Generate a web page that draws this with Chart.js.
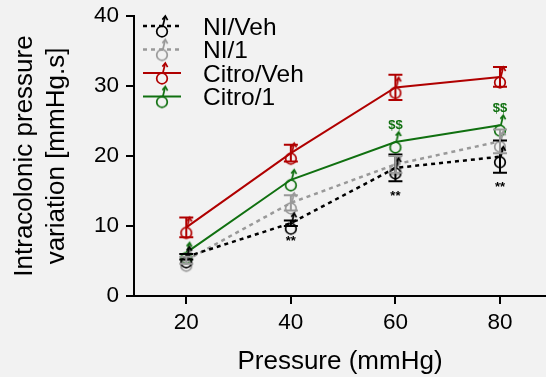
<!DOCTYPE html>
<html>
<head>
<meta charset="utf-8">
<script src="https://cdn.jsdelivr.net/npm/chart.js@4.4.1/dist/chart.umd.min.js"></script>
<style>
  html, body { margin: 0; padding: 0; background: #f2f2f2; }
  #wrap { width: 546px; height: 377px; position: relative; }
</style>
</head>
<body>
<div id="wrap"><canvas id="c" width="546" height="377"></canvas></div>
<script>
// ---- data ----
const pressures = [20, 40, 60, 80];
const seriesNames = ['NI/Veh', 'NI/1', 'Citro/Veh', 'Citro/1'];
const niVeh = [5.6, 10.4, 18.3, 19.9];
const niVehErr = [0.4, 0.4, 1.9, 2.3];
const ni1 = [5.1, 13.3, 18.8, 22.1];
const ni1Err = [0.5, 1.1, 1.2, 1.7];
const citroVeh = [9.8, 20.4, 29.8, 31.3];
const citroVehErr = [1.4, 1.2, 1.8, 1.4];
const citro1 = [6.2, 16.6, 22.0, 24.4];
const citro1Err = [0, 0, 0, 0];
const starMarks = ['', '**', '**', '**'];   // below NI/Veh
const dollarMarks = ['', '', '$$', '$$'];   // above Citro/1
const yTicks = [0, 10, 20, 30, 40];
const xTicks = [20, 40, 60, 80];

const FONT = "'Liberation Sans', Arial, Helvetica, sans-serif";
const colors = ['#000000', '#999999', '#b00000', '#107010'];
const dashes = [[4, 4], [4, 4], [], []];

function makeMale(color) {
  const c = document.createElement('canvas');
  c.width = 26; c.height = 34;
  const g = c.getContext('2d');
  const cx = 13, cy = 17;
  g.strokeStyle = color;
  g.lineWidth = 1.7;
  g.beginPath(); g.arc(cx, cy + 5.5, 5.3, 0, 2 * Math.PI); g.stroke();
  g.beginPath(); g.moveTo(cx + 0.8, cy + 0.3); g.lineTo(cx + 3.2, cy - 9.5); g.stroke();
  g.beginPath(); g.moveTo(cx + 0.4, cy - 6.4); g.lineTo(cx + 3.3, cy - 10); g.lineTo(cx + 5.6, cy - 5.8); g.stroke();
  return c;
}
const markers = colors.map(makeMale);

const values = [niVeh, ni1, citroVeh, citro1];
const errs = [niVehErr, ni1Err, citroVehErr, citro1Err];

const datasets = values.map((v, i) => ({
  label: seriesNames[i],
  data: pressures.map((p, j) => ({ x: p, y: v[j] })),
  borderColor: colors[i],
  backgroundColor: colors[i],
  borderWidth: i < 2 ? 2.5 : 2,
  borderDash: dashes[i],
  pointStyle: markers[i],
  pointRadius: 6,
  tension: 0,
  fill: false,
  errs: errs[i]
}));

const errorBars = {
  id: 'errorBars',
  afterDatasetsDraw(chart) {
    const { ctx, scales: { x, y } } = chart;
    ctx.save();
    chart.data.datasets.forEach((ds, i) => {
      ctx.strokeStyle = ds.borderColor;
      ctx.lineWidth = 2;
      ds.data.forEach((pt, j) => {
        const e = ds.errs[j];
        if (!e) return;
        const px = x.getPixelForValue(pt.x);
        const yt = y.getPixelForValue(pt.y + e);
        const yb = y.getPixelForValue(pt.y - e);
        ctx.beginPath();
        ctx.moveTo(px, yt); ctx.lineTo(px, yb);
        ctx.moveTo(px - 7, yt); ctx.lineTo(px + 7, yt);
        ctx.moveTo(px - 7, yb); ctx.lineTo(px + 7, yb);
        ctx.stroke();
      });
    });
    // significance marks
    ctx.font = 'bold 13px ' + FONT;
    ctx.textAlign = 'center';
    ctx.textBaseline = 'middle';
    pressures.forEach((p, j) => {
      const px = x.getPixelForValue(p);
      if (starMarks[j]) {
        ctx.fillStyle = colors[0];
        ctx.fillText(starMarks[j], px, y.getPixelForValue(niVeh[j] - niVehErr[j]) + 15);
      }
      if (dollarMarks[j]) {
        ctx.fillStyle = colors[3];
        ctx.fillText(dollarMarks[j], px, y.getPixelForValue(citro1[j]) - 17);
      }
    });
    // legend
    const ly0 = 26, lstep = 23.5;
    seriesNames.forEach((name, i) => {
      const ly = ly0 + i * lstep;
      ctx.strokeStyle = colors[i];
      ctx.lineWidth = i < 2 ? 2.5 : 2;
      ctx.setLineDash(dashes[i]);
      ctx.beginPath(); ctx.moveTo(143, ly); ctx.lineTo(181, ly); ctx.stroke();
      ctx.setLineDash([]);
      const m = markers[i];
      ctx.drawImage(m, 162 - m.width / 2, ly - m.height / 2);
      ctx.fillStyle = '#000';
      ctx.font = '24.5px ' + FONT;
      ctx.textAlign = 'left';
      ctx.fillText(name, 203, ly + 2);
    });
    ctx.restore();
  }
};

new Chart(document.getElementById('c'), {
  type: 'line',
  data: { datasets },
  plugins: [errorBars],
  options: {
    responsive: false,
    animation: false,
    events: [],
    layout: { autoPadding: false, padding: { top: 16, right: 0, left: 0, bottom: 0 } },
    plugins: { legend: { display: false }, tooltip: { enabled: false } },
    scales: {
      x: {
        type: 'linear',
        min: 10, max: 88.8,
        afterFit(s) { s.height = 81; s.paddingLeft = 0; s.paddingRight = 0; },
        afterBuildTicks(s) { s.ticks = xTicks.map(v => ({ value: v })); },
        border: { display: true, color: '#000', width: 2 },
        grid: { display: true, drawOnChartArea: false, drawTicks: true, tickLength: 8, color: '#000', lineWidth: 2 },
        ticks: { color: '#000', font: { family: FONT, size: 22.5 }, padding: 5, maxRotation: 0 },
        title: { display: true, text: 'Pressure (mmHg)', color: '#000', font: { family: FONT, size: 26, lineHeight: 1.2 }, padding: { top: 0, bottom: 0 } }
      },
      y: {
        min: 0, max: 40,
        afterFit(s) { s.width = 134; s.paddingTop = 0; s.paddingBottom = 0; },
        afterBuildTicks(s) { s.ticks = yTicks.map(v => ({ value: v })); },
        border: { display: true, color: '#000', width: 2 },
        grid: { display: true, drawOnChartArea: false, drawTicks: true, tickLength: 8, color: '#000', lineWidth: 2 },
        ticks: { color: '#000', font: { family: FONT, size: 22.5 }, padding: 7 },
        title: { display: true, text: ['Intracolonic pressure', 'variation [mmHg.s]'], color: '#000', font: { family: FONT, size: 26, lineHeight: 1.23 }, padding: { top: 9, bottom: 0 } }
      }
    }
  }
});
</script>
</body>
</html>
